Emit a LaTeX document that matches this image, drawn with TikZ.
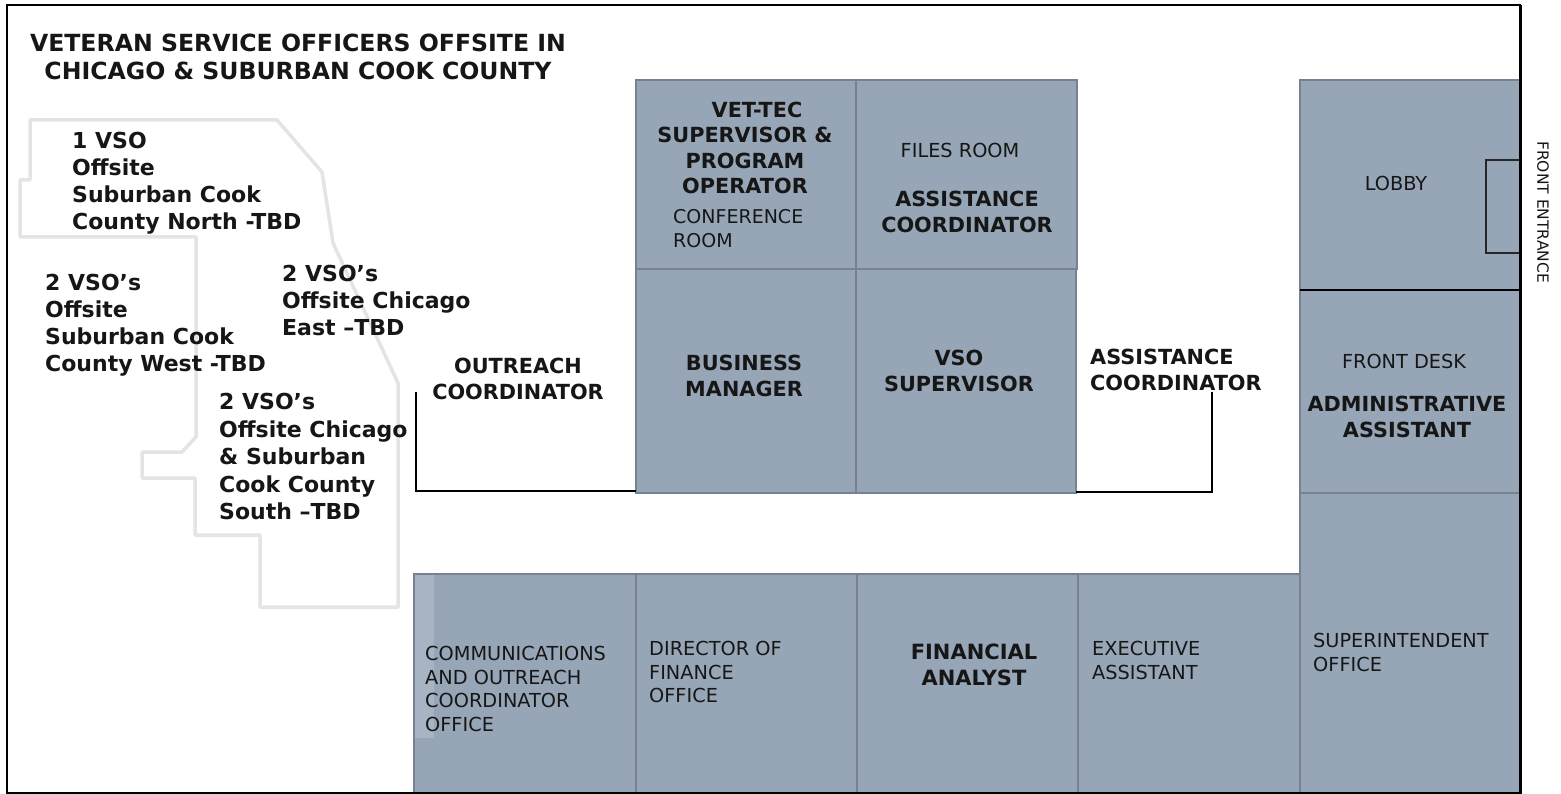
\documentclass[tikz,border=0pt]{standalone}
\usepackage{fontspec}
\setmainfont{DejaVu Sans}
\definecolor{roomfill}{RGB}{151,166,183}
\definecolor{roomline}{RGB}{118,130,145}
\definecolor{striplight}{RGB}{168,180,195}
\definecolor{maplinec}{RGB}{228,228,228}
\definecolor{txt}{RGB}{22,22,22}
\begin{document}
\begin{tikzpicture}[x=1pt,y=-1pt,
  room/.style={fill=roomfill, draw=roomline, line width=1.3pt},
  wall/.style={draw=black, line width=2.3pt},
  maplbl/.style={font=\bfseries\fontsize{22}{27}\selectfont, inner sep=0pt, align=left, anchor=north west, text=txt},
  boldc/.style={font=\bfseries\fontsize{20.8}{26}\selectfont, inner sep=0pt, align=center, anchor=north, text=txt},
  boldl/.style={font=\bfseries\fontsize{20.8}{25.5}\selectfont, inner sep=0pt, align=left, anchor=north west, text=txt},
  regl/.style={font=\fontsize{19.3}{23.7}\selectfont, inner sep=0pt, align=left, anchor=north west, text=txt},
  regc/.style={font=\fontsize{19.3}{24}\selectfont, inner sep=0pt, align=center, anchor=north, text=txt}
]
\useasboundingbox (0,0) rectangle (1561,794);
\fill[white] (0,0) rectangle (1561,794);

% county map outline
\draw[maplinec, line width=3.5pt, line join=round]
  (30,120) -- (277,120) -- (322,172) -- (333,243) -- (398,383) -- (398,607)
  -- (260,607) -- (260,535) -- (195,535) -- (195,478) -- (142,478) -- (142,452)
  -- (182,452) -- (196,437) -- (196,237) -- (20,237) -- (20,180) -- (30,180) -- cycle;

% rooms
\draw[room] (636,80) rectangle (856,269);
\draw[room] (856,80) rectangle (1077,269);
\draw[room] (636,269) rectangle (856,493);
\draw[room] (856,269) rectangle (1076,493);
\draw[room] (1300,80) rectangle (1520,290);
\draw[room] (1300,290) rectangle (1520,493);
\draw[room] (1300,493) rectangle (1520,793);
\draw[room] (414,574) rectangle (636,793);
\fill[striplight] (415,575) rectangle (434,738);
\draw[room] (636,574) rectangle (857,793);
\draw[room] (857,574) rectangle (1078,793);
\draw[room] (1078,574) rectangle (1300,793);

% lobby divider and door
\draw[black, line width=1.8pt] (1300,290) -- (1520,290);
\draw[black!85, line width=1.3pt] (1486,160) rectangle (1520,253);

% open work areas
\coordinate (oc1) at (416,392);
\coordinate (oc2) at (636,491);
\coordinate (ac1) at (1076,492);
\coordinate (ac2) at (1212,392);
\draw[wall] (oc1) |- (oc2);
\draw[wall] (ac1) -| (ac2);

% frame
\draw[black, line width=2pt] (7,5) rectangle (1520,793);
\draw[black, line width=3pt] (1520,5) -- (1520,794);

% title
\node[font=\bfseries\fontsize{23.6}{28}\selectfont, inner sep=0pt, align=center, anchor=north, text=txt] (title) at (298,34)
  {VETERAN SERVICE OFFICERS OFFSITE IN\\CHICAGO \& SUBURBAN COOK COUNTY};

% offsite labels
\node[maplbl] (north) at (72,132) {1 VSO\\Offsite\\Suburban Cook\\County North -TBD};
\node[maplbl] (west) at (45,274) {2 VSO’s\\Offsite\\Suburban Cook\\County West -TBD};
\node[maplbl] (east) at (282,265) {2 VSO’s\\Offsite Chicago\\East –TBD};
\node[maplbl, font=\bfseries\fontsize{22}{27.5}\selectfont] (south) at (219,393) {2 VSO’s\\Offsite Chicago\\\& Suburban\\Cook County\\South –TBD};

% room labels
\node[boldc, font=\bfseries\fontsize{20.8}{25.3}\selectfont] (vettec) at (745,102) {\hspace*{24pt}VET-TEC\\SUPERVISOR \&\\PROGRAM\\OPERATOR};
\node[regl, font=\fontsize{19}{24}\selectfont] (conf) at (673,209) {CONFERENCE\\ROOM};
\node[regc] (files) at (960,143) {FILES ROOM};
\node[boldc] (assist1) at (967,191) {ASSISTANCE\\COORDINATOR};
\node[boldc] (busmgr) at (744,355) {BUSINESS\\MANAGER};
\node[boldc] (vsosup) at (959,350) {VSO\\SUPERVISOR};
\node[boldc] (outreach) at (518,358) {OUTREACH\\COORDINATOR};
\node[boldl] (assist2) at (1090,349) {ASSISTANCE\\COORDINATOR};
\node[regc] (lobby) at (1396,176) {LOBBY};
\node[regc] (frontdesk) at (1404,354) {FRONT DESK};
\node[boldc] (admin) at (1407,396) {ADMINISTRATIVE\\ASSISTANT};
\node[regl] (comms) at (425,646) {COMMUNICATIONS\\AND OUTREACH\\COORDINATOR\\OFFICE};
\node[regl] (director) at (649,641) {DIRECTOR OF\\FINANCE\\OFFICE};
\node[boldc, font=\bfseries\fontsize{21}{26}\selectfont] (analyst) at (974,644) {FINANCIAL\\ANALYST};
\node[regl] (exec) at (1092,641) {EXECUTIVE\\ASSISTANT};
\node[regl] (super) at (1313,633) {SUPERINTENDENT\\OFFICE};

% front entrance
\node[font=\fontsize{15.5}{18}\selectfont, inner sep=0pt, rotate=-90, text=txt] (entrance) at (1543,212) {FRONT ENTRANCE};
\end{tikzpicture}
\end{document}
